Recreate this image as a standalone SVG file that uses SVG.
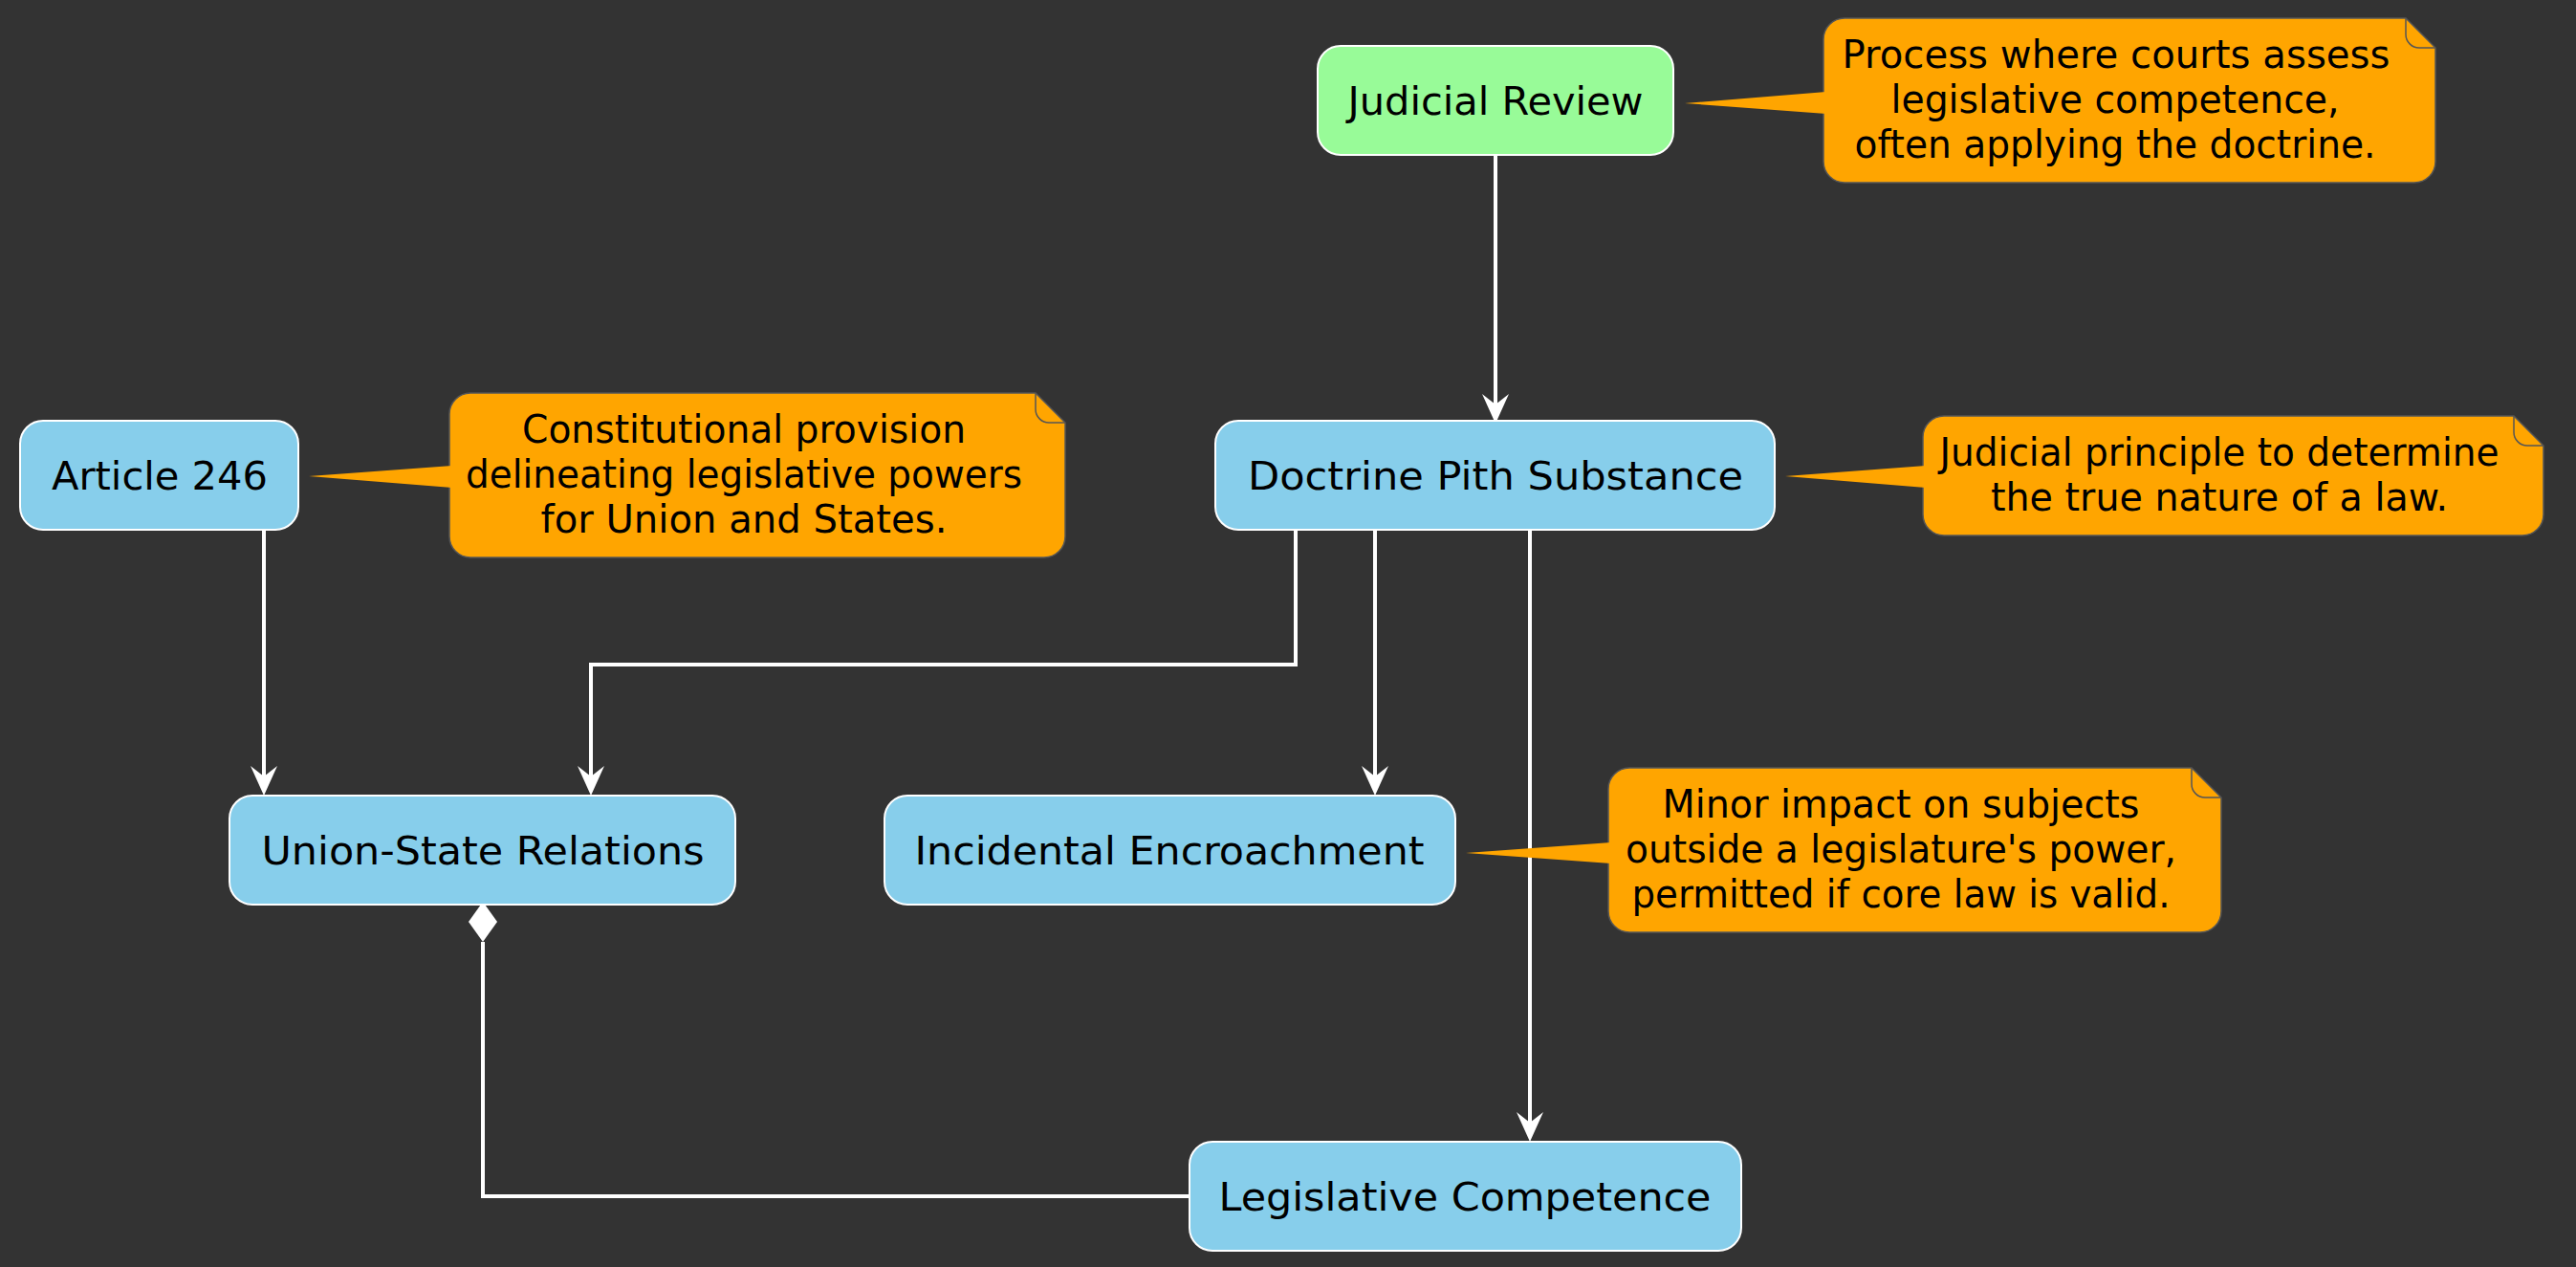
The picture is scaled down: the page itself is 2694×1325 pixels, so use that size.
<svg xmlns="http://www.w3.org/2000/svg" width="2694" height="1325" viewBox="0 0 2694 1325">
<style>
.node{stroke:#ffffff;stroke-width:2}
.blue{fill:#87CEEB}
.green{fill:#98FB98}
.note{fill:#FFA500;stroke:#555555;stroke-width:1.5}
.fold{fill:none;stroke:#555555;stroke-width:1.5}
.ptr{fill:#FFA500;stroke:none}
.lbl{font-family:"DejaVu Sans","Liberation Sans",sans-serif;font-size:41.5px;fill:#000000;text-anchor:middle}
.ntxt{font-family:"DejaVu Sans","Liberation Sans",sans-serif;font-size:40px;fill:#000000;text-anchor:middle}
.edge{fill:none;stroke:#ffffff;stroke-width:4}
</style>
<defs>
<marker id="arrow" markerUnits="userSpaceOnUse" viewBox="-12 -15 33 30" refX="0" refY="0" markerWidth="33" markerHeight="30" orient="auto">
<path d="M20,0 L-11,-14 L0,0 L-11,14 Z" fill="#ffffff"/>
</marker>
</defs>
<rect x="0" y="0" width="2694" height="1325" fill="#333333"/>

<g id="connectors">
<path class="edge" d="M1564,162 V423" marker-end="url(#arrow)"/>
<path class="edge" d="M1355,554 V695 H618 V812" marker-end="url(#arrow)"/>
<path class="edge" d="M1438,554 V812" marker-end="url(#arrow)"/>
<path class="edge" d="M1600,554 V1174" marker-end="url(#arrow)"/>
<path class="edge" d="M276,554 V812" marker-end="url(#arrow)"/>
<path class="edge" d="M505,985 V1251 H1244"/>
<polygon points="505,943 520,964 505,985 490,964" fill="#ffffff"/>
</g>

<g id="judicial-review">
<rect class="node green" x="1378" y="48" width="372" height="114" rx="24"/>
<text class="lbl" x="1564" y="120" textLength="309" lengthAdjust="spacingAndGlyphs">Judicial Review</text>
</g>

<g id="doctrine-pith-substance">
<rect class="node blue" x="1271" y="440" width="585" height="114" rx="24"/>
<text class="lbl" x="1564" y="512" textLength="518" lengthAdjust="spacingAndGlyphs">Doctrine Pith Substance</text>
</g>

<g id="article-246">
<rect class="node blue" x="21" y="440" width="291" height="114" rx="24"/>
<text class="lbl" x="167" y="512" textLength="226" lengthAdjust="spacingAndGlyphs">Article 246</text>
</g>

<g id="union-state-relations">
<rect class="node blue" x="240" y="832" width="529" height="114" rx="24"/>
<text class="lbl" x="505" y="904" textLength="463" lengthAdjust="spacingAndGlyphs">Union-State Relations</text>
</g>

<g id="incidental-encroachment">
<rect class="node blue" x="925" y="832" width="597" height="114" rx="24"/>
<text class="lbl" x="1223" y="904" textLength="533" lengthAdjust="spacingAndGlyphs">Incidental Encroachment</text>
</g>

<g id="legislative-competence">
<rect class="node blue" x="1244" y="1194" width="577" height="114" rx="24"/>
<text class="lbl" x="1532" y="1266" textLength="515" lengthAdjust="spacingAndGlyphs">Legislative Competence</text>
</g>

<g id="note-judicial-review">
<path class="note" d="M1929,19 H2516 L2547,50 V169 A22,22 0 0 1 2525,191 H1929 A22,22 0 0 1 1907,169 V41 A22,22 0 0 1 1929,19 Z"/>
<path class="fold" d="M2516,19 V36 A14,14 0 0 0 2530,50 H2547"/>
<polygon class="ptr" points="1762,108 1910,96 1910,119"/>
<text class="ntxt" x="2213" y="71" textLength="573" lengthAdjust="spacingAndGlyphs">Process where courts assess</text>
<text class="ntxt" x="2212" y="118" textLength="469" lengthAdjust="spacingAndGlyphs">legislative competence,</text>
<text class="ntxt" x="2212" y="165" textLength="545" lengthAdjust="spacingAndGlyphs">often applying the doctrine.</text>
</g>

<g id="note-doctrine">
<path class="note" d="M2033,435 H2629 L2660,466 V538 A22,22 0 0 1 2638,560 H2033 A22,22 0 0 1 2011,538 V457 A22,22 0 0 1 2033,435 Z"/>
<path class="fold" d="M2629,435 V452 A14,14 0 0 0 2643,466 H2660"/>
<polygon class="ptr" points="1867,498 2014,487 2014,510"/>
<text class="ntxt" x="2321" y="487" textLength="585" lengthAdjust="spacingAndGlyphs">Judicial principle to determine</text>
<text class="ntxt" x="2321" y="534" textLength="478" lengthAdjust="spacingAndGlyphs">the true nature of a law.</text>
</g>

<g id="note-article-246">
<path class="note" d="M492,411 H1083 L1114,442 V561 A22,22 0 0 1 1092,583 H492 A22,22 0 0 1 470,561 V433 A22,22 0 0 1 492,411 Z"/>
<path class="fold" d="M1083,411 V428 A14,14 0 0 0 1097,442 H1114"/>
<polygon class="ptr" points="323,498 473,487 473,510"/>
<text class="ntxt" x="778" y="463" textLength="464" lengthAdjust="spacingAndGlyphs">Constitutional provision</text>
<text class="ntxt" x="778" y="510" textLength="582" lengthAdjust="spacingAndGlyphs">delineating legislative powers</text>
<text class="ntxt" x="778" y="557" textLength="425" lengthAdjust="spacingAndGlyphs">for Union and States.</text>
</g>

<g id="note-incidental">
<path class="note" d="M1704,803 H2292 L2323,834 V953 A22,22 0 0 1 2301,975 H1704 A22,22 0 0 1 1682,953 V825 A22,22 0 0 1 1704,803 Z"/>
<path class="fold" d="M2292,803 V820 A14,14 0 0 0 2306,834 H2323"/>
<polygon class="ptr" points="1533,892 1685,881 1685,903"/>
<text class="ntxt" x="1988" y="855" textLength="499" lengthAdjust="spacingAndGlyphs">Minor impact on subjects</text>
<text class="ntxt" x="1988" y="902" textLength="576" lengthAdjust="spacingAndGlyphs">outside a legislature's power,</text>
<text class="ntxt" x="1988" y="949" textLength="563" lengthAdjust="spacingAndGlyphs">permitted if core law is valid.</text>
</g>
</svg>
